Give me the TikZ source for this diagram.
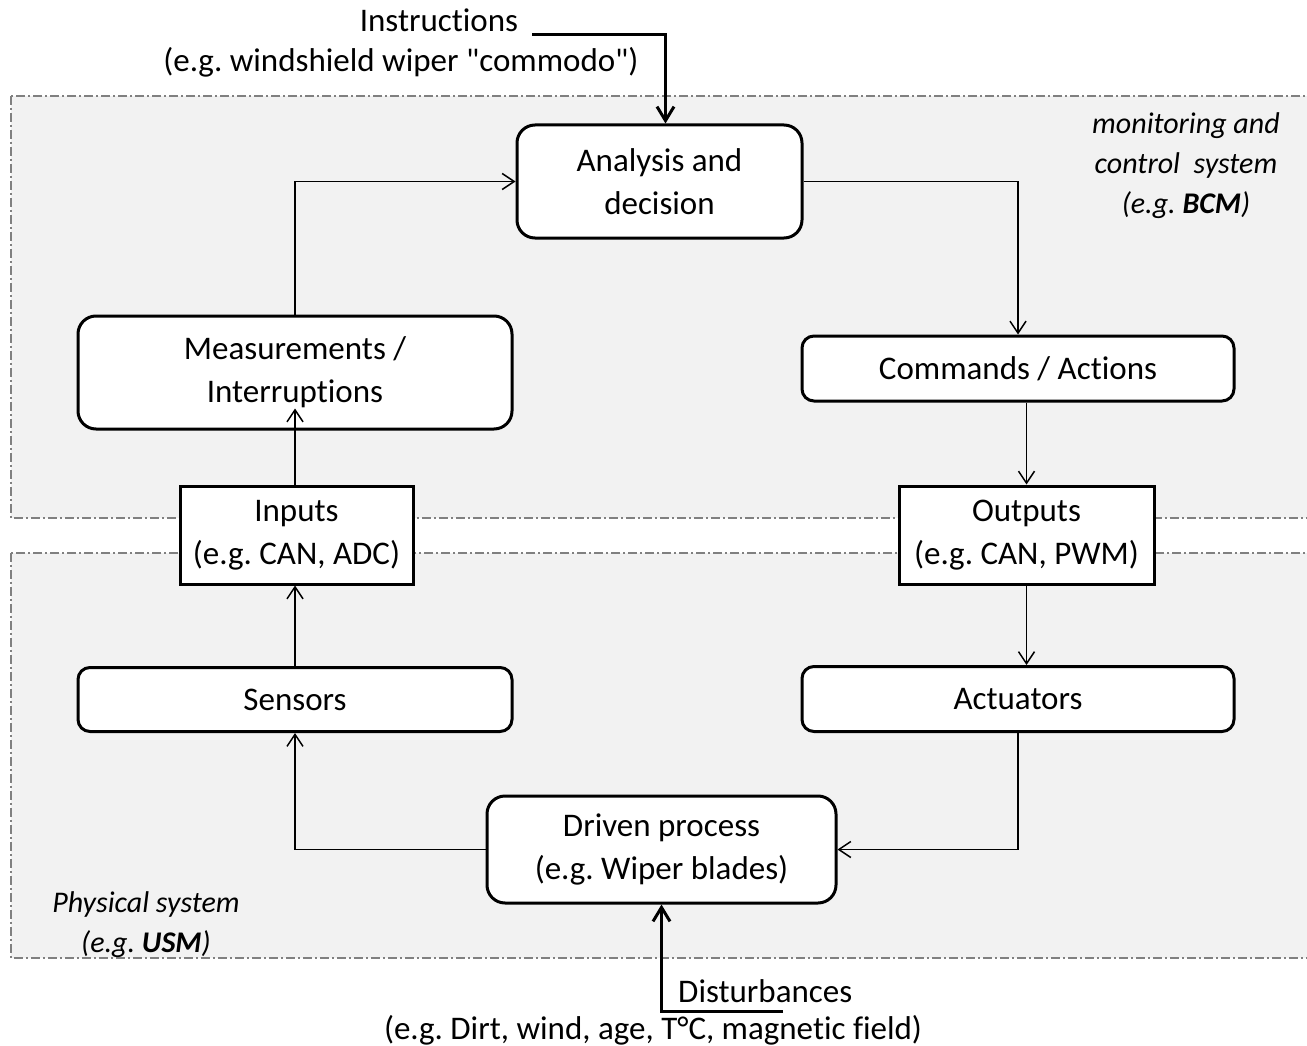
\documentclass[tikz,border=0pt]{standalone}
\usepackage{fontspec}
\setmainfont{Carlito}[Ligatures={TeXOff,NoCommon}]
\usetikzlibrary{arrows.meta}
\definecolor{zonegray}{HTML}{F2F2F2}
\definecolor{zoneline}{HTML}{808080}
\frenchspacing

\begin{document}
\begin{tikzpicture}[x=1pt,y=-1pt,
  txt/.style={font=\fontsize{33}{43}\selectfont, align=center, inner sep=0pt},
  rbox/.style={txt, draw, line width=3pt, fill=white, rounded corners=18pt},
  rboxs/.style={rbox, rounded corners=12pt},
  sbox/.style={txt, draw, line width=3pt, fill=white},
  zone/.style={fill=zonegray, draw=zoneline, line width=1.5pt,
               dash pattern=on 9pt off 3pt on 2pt off 3pt},
  zonelabel/.style={txt, font=\fontsize{30}{40}\selectfont\itshape},
  flow/.style={line width=1.5pt, -{Straight Barb[length=12pt,width=16pt]}},
  feed/.style={line width=3pt, -{Straight Barb[length=14pt,width=17pt]}},
]
\useasboundingbox (0,0) rectangle (1307,1046);

% the two zones: monitoring/control (top) and physical system (bottom)
\draw[zone] (11,96) rectangle (1330,518);
\draw[zone] (11,553) rectangle (1330,958);

\node[zonelabel] (mcs) at (1186,166) {monitoring and\\control\ \ system\\(e.g. \textbf{BCM})};
\node[zonelabel] (phys) at (146,925) {Physical system\\(e.g. \textbf{USM})};

% blocks
\node[rbox, minimum width=285pt, minimum height=113pt] (ana) at (659.5,181.5) {Analysis and\\decision};
\node[rbox, minimum width=434pt, minimum height=113pt] (meas) at (295,372.5) {Measurements /\\Interruptions};
\node[rboxs, minimum width=432pt, minimum height=65pt] (cmd) at (1018,368.5) {Commands / Actions};
\node[sbox, minimum width=233pt, minimum height=98pt] (inp) at (296.5,535) {Inputs\\(e.g. CAN, ADC)};
\node[sbox, minimum width=255pt, minimum height=98pt] (out) at (1026.5,535) {Outputs\\(e.g. CAN, PWM)};
\node[rboxs, minimum width=434pt, minimum height=64pt] (sens) at (295,699.5) {Sensors};
\node[rboxs, minimum width=432pt, minimum height=65pt] (act) at (1018,699) {Actuators};
\node[rbox, minimum width=349pt, minimum height=107pt] (drv) at (661.5,849.5) {Driven process\\(e.g. Wiper blades)};

% external inputs
\node[txt, anchor=base] (instr) at (439,32) {Instructions};
\node[txt, anchor=base] (instrex) at (401,72) {(e.g. windshield wiper "commodo")};
\node[txt, anchor=base west] (dist) at (678,1002) {Disturbances};
\node[txt, anchor=base] (distex) at (653,1039) {(e.g. Dirt, wind, age, T°C, magnetic field)};

\coordinate (instrEnd) at (532,35);
\coordinate (distEnd) at (783,1011);

% control loop
\draw[flow] (meas.north) |- (ana.west);
\draw[flow] (ana.east) -| (cmd.north);
\draw[flow] (cmd.south -| out.north) -- (out.north);
\draw[flow] (out.south) -- (act.north -| out.south);
\draw[flow] (act.south) |- (drv.east);
\draw[flow] (drv.west) -| (sens.south);
\draw[flow] (sens.north) -- (inp.south -| sens.north);
\draw[flow] (inp.north -| meas.south) -- ([yshift=22pt]meas.south);

% instructions and disturbances
\draw[feed] (instrEnd) -| ([xshift=6pt]ana.north);
\draw[feed] (distEnd) -| (drv.south);
\end{tikzpicture}
\end{document}
